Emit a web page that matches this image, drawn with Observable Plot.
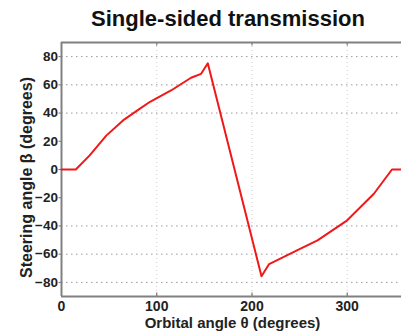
<!DOCTYPE html>
<html>
<head>
<meta charset="utf-8">
<script src="https://cdn.jsdelivr.net/npm/d3@7"></script>
<script src="https://cdn.jsdelivr.net/npm/@observablehq/plot@0.6"></script>
<style>
  html, body { margin: 0; padding: 0; background: #fff; overflow: hidden; width: 401px; height: 334px; }
  #title { height: 36px; box-sizing: border-box; padding-top: 8px; width: 401px; position: relative;
           font-family: "Liberation Sans", Arial, sans-serif; font-weight: bold; font-size: 22px; line-height: 1; color: #111; }
  #title span { position: absolute; left: 228px; transform: translateX(-50%); white-space: nowrap; }
  svg { display: block; }
</style>
</head>
<body>
<div id="title"><span>Single-sided transmission</span></div>
<div id="chart"></div>
<script>
// Data
const theta = [0, 15, 29.6, 47, 64.6, 82, 93, 115, 136, 146.6, 153.6, 210, 218, 251, 268.8, 300, 328, 347, 360];
const beta  = [0, 0, 10, 24, 34.8, 43, 48, 56, 65, 67.8, 75.3, -75.7, -67, -56, -50.2, -36, -17.2, 0, 0];
const xTicks = [0, 100, 200, 300];
const yTicks = [-80, -60, -40, -20, 0, 20, 40, 60, 80];
const yGrid = [-80, -60, -40, 40, 60, 80];
const xGrid = [100, 200, 300];
const xLabel = "Orbital angle θ (degrees)";
const yLabel = "Steering angle β (degrees)";

const data = theta.map((t, i) => ({theta: t, beta: beta[i]}));
const font = "'Liberation Sans', Arial, sans-serif";

const chart = Plot.plot({
  width: 401,
  height: 298,
  marginLeft: 61,
  marginRight: 0,
  marginTop: 6,
  marginBottom: 38,
  style: {fontFamily: font, background: "#fff", overflow: "visible"},
  x: {domain: [0, 357]},
  y: {domain: [-90, 90]},
  marks: [
    Plot.ruleY(yGrid, {stroke: "#999", strokeWidth: 1, strokeDasharray: "1.5,3.5"}),
    Plot.ruleX(xGrid, {stroke: "#ccc", strokeWidth: 1, strokeDasharray: "1,3"}),
    Plot.ruleX(xTicks.slice(1), {y1: -90, y2: -87.5, stroke: "#777", strokeWidth: 1.2}),
    Plot.ruleX(xTicks.slice(1), {y1: 90, y2: 87.5, stroke: "#777", strokeWidth: 1.2}),
    Plot.ruleY([-90, 90], {stroke: "#808080", strokeWidth: 2}),
    Plot.ruleX([0], {stroke: "#808080", strokeWidth: 2}),
    Plot.axisY(yTicks, {tickSize: 2.5, tickPadding: 1, fontSize: 13.5, fontWeight: "bold", fill: "#222", stroke: "#777", label: null}),
    Plot.axisX(xTicks, {tickSize: 0, tickPadding: 5, fontSize: 14, fontWeight: "bold", fill: "#222", label: null}),
    Plot.line(data, {x: "theta", y: "beta", stroke: "#f01818", strokeWidth: 2, strokeLinejoin: "round"}),
    Plot.text([xLabel], {frameAnchor: "bottom", dy: 27, dx: 1, fontSize: 15, fontWeight: "bold", fill: "#222", lineAnchor: "middle", textAnchor: "middle"}),
    Plot.text([yLabel], {frameAnchor: "left", dx: -34.5, dy: 8, rotate: -90, fontSize: 16, fontWeight: "bold", fill: "#222", lineAnchor: "middle", textAnchor: "middle"})
  ]
});
document.getElementById("chart").appendChild(chart);
</script>
</body>
</html>
